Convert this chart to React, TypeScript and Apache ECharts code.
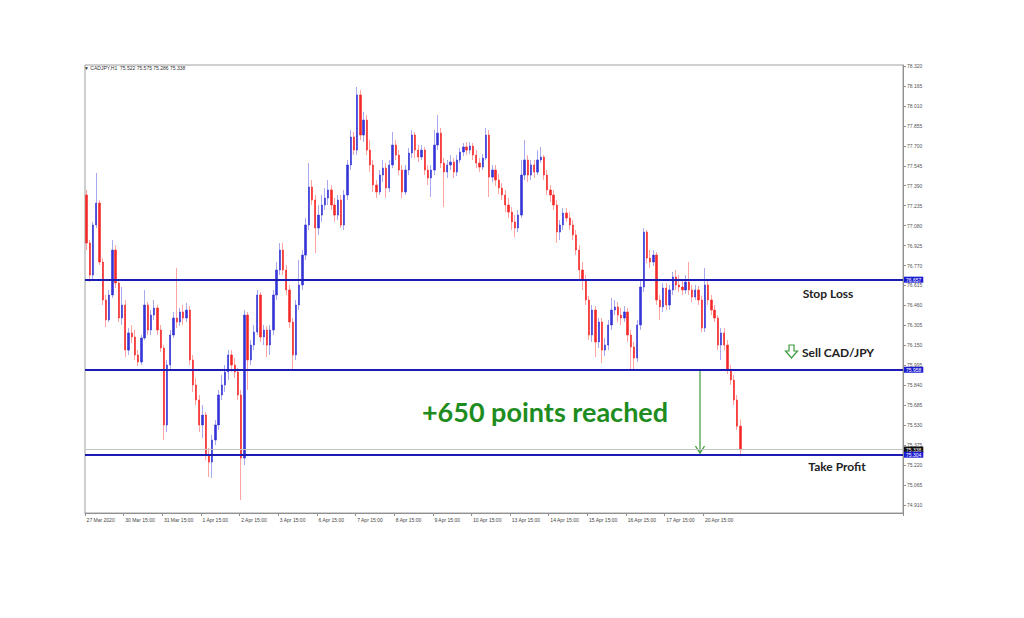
import React, { useEffect, useRef } from "react";
import * as echarts from "echarts";

// ---- data (2-hour bars, CADJPY) ----
const xTickLabels = [
  "27 Mar 2020", "30 Mar 15:00", "31 Mar 15:00", "1 Apr 15:00", "2 Apr 15:00", "3 Apr 15:00",
  "6 Apr 15:00", "7 Apr 15:00", "8 Apr 15:00", "9 Apr 15:00", "10 Apr 15:00", "13 Apr 15:00",
  "14 Apr 15:00", "15 Apr 15:00", "16 Apr 15:00", "17 Apr 15:00", "20 Apr 15:00",
];
const barsPerLabel = 12;
const totalSlots = 254;

const yTicks = [
  74.91, 75.065, 75.22, 75.375, 75.53, 75.685, 75.84, 75.995, 76.15, 76.305, 76.46, 76.615,
  76.77, 76.925, 77.08, 77.235, 77.39, 77.545, 77.7, 77.855, 78.01, 78.165, 78.32,
];

const stopLoss = 76.657;
const sellLevel = 75.958;
const takeProfit = 75.304;
const lastPrice = 75.338;
const header = "▼ CADJPY,H1  75.522 75.575 75.286 75.338";

const firstOpen = 77.318;
const closes = [
  76.945, 76.696, 77.085, 77.255, 76.797, 76.502, 76.347, 76.541, 76.890, 76.634,
  76.362, 76.463, 76.113, 76.246, 76.215, 76.075, 76.020, 76.207, 76.463, 76.269,
  76.385, 76.440, 76.269, 76.129, 75.531, 75.997, 76.230, 76.362, 76.331, 76.409,
  76.362, 76.424, 76.036, 75.842, 75.725, 75.531, 75.608, 75.298, 75.243, 75.414,
  75.531, 75.764, 75.842, 75.943, 76.075, 75.997, 75.943, 75.764, 75.274, 76.385,
  76.036, 76.152, 76.253, 76.541, 76.215, 76.269, 76.152, 76.269, 76.541, 76.735,
  76.890, 76.735, 76.580, 76.331, 76.075, 76.463, 76.619, 76.851, 77.085, 77.380,
  77.279, 77.061, 77.162, 77.240, 77.294, 77.357, 77.240, 77.162, 77.279, 77.085,
  77.318, 77.551, 77.768, 77.667, 78.095, 77.784, 77.900, 77.667, 77.551, 77.395,
  77.341, 77.473, 77.527, 77.372, 77.551, 77.706, 77.628, 77.512, 77.341, 77.512,
  77.644, 77.784, 77.667, 77.613, 77.667, 77.512, 77.450, 77.512, 77.706, 77.799,
  77.566, 77.496, 77.551, 77.574, 77.496, 77.590, 77.652, 77.691, 77.667, 77.698,
  77.628, 77.566, 77.535, 77.605, 77.784, 77.457, 77.512, 77.434, 77.372, 77.318,
  77.240, 77.185, 77.108, 77.061, 77.162, 77.473, 77.590, 77.473, 77.551, 77.496,
  77.590, 77.613, 77.473, 77.357, 77.318, 77.240, 77.030, 77.085, 77.178, 77.139,
  77.085, 77.007, 76.890, 76.735, 76.657, 76.502, 76.230, 76.424, 76.176, 76.331,
  76.113, 76.152, 76.308, 76.424, 76.448, 76.385, 76.362, 76.409, 76.230, 76.137,
  76.051, 76.308, 76.603, 77.030, 76.828, 76.797, 76.851, 76.502, 76.448, 76.595,
  76.463, 76.580, 76.681, 76.619, 76.603, 76.580, 76.642, 76.580, 76.525, 76.580,
  76.502, 76.284, 76.619, 76.502, 76.424, 76.362, 76.152, 76.246, 76.152, 75.958,
  75.880, 75.725, 75.522, 75.338,
];
const highs = [
  77.357, 76.968, 77.108, 77.489, 77.279, 76.828, 76.541, 76.580, 76.968, 76.929,
  76.657, 76.603, 76.502, 76.284, 76.308, 76.269, 76.113, 76.230, 76.580, 76.486,
  76.424, 76.502, 76.463, 76.308, 76.152, 76.036, 76.269, 76.409, 76.751, 76.440,
  76.463, 76.479, 76.455, 76.075, 75.896, 75.764, 75.686, 75.632, 75.352, 75.453,
  75.570, 75.803, 75.919, 75.997, 76.113, 76.113, 76.051, 75.974, 75.803, 76.424,
  76.409, 76.191, 76.308, 76.580, 76.564, 76.308, 76.300, 76.308, 76.580, 76.797,
  76.945, 76.945, 76.774, 76.619, 76.362, 76.502, 76.813, 76.890, 77.139, 77.566,
  77.434, 77.318, 77.240, 77.318, 77.372, 77.434, 77.395, 77.294, 77.318, 77.318,
  77.357, 77.590, 77.823, 77.807, 78.157, 78.134, 77.963, 77.939, 77.745, 77.590,
  77.434, 77.512, 77.590, 77.566, 77.590, 77.807, 77.745, 77.667, 77.551, 77.551,
  77.683, 77.823, 77.807, 77.706, 77.706, 77.691, 77.551, 77.551, 77.823, 77.939,
  77.838, 77.605, 77.590, 77.628, 77.605, 77.628, 77.683, 77.722, 77.729, 77.729,
  77.722, 77.667, 77.605, 77.636, 77.838, 77.823, 77.551, 77.551, 77.481, 77.411,
  77.357, 77.294, 77.224, 77.162, 77.201, 77.590, 77.745, 77.628, 77.590, 77.590,
  77.667, 77.691, 77.628, 77.512, 77.395, 77.357, 77.279, 77.123, 77.216, 77.216,
  77.185, 77.123, 77.046, 76.929, 76.797, 76.696, 76.533, 76.463, 76.455, 76.362,
  76.362, 76.207, 76.347, 76.518, 76.502, 76.486, 76.440, 76.455, 76.440, 76.269,
  76.176, 76.347, 76.657, 77.061, 77.046, 76.890, 76.890, 76.875, 76.541, 76.634,
  76.634, 76.619, 76.720, 76.735, 76.696, 76.657, 76.696, 76.797, 76.619, 76.619,
  76.611, 76.533, 76.751, 76.657, 76.541, 76.463, 76.385, 76.284, 76.284, 76.191,
  75.997, 75.919, 75.764, 75.575,
];
const lows = [
  76.890, 76.642, 76.657, 77.061, 76.774, 76.463, 76.292, 76.331, 76.518, 76.595,
  76.331, 76.308, 76.059, 76.075, 76.168, 76.036, 75.989, 75.997, 76.191, 76.230,
  76.230, 76.347, 76.230, 76.098, 75.414, 75.476, 75.958, 76.207, 76.284, 76.300,
  76.308, 76.331, 75.997, 75.787, 75.686, 75.476, 75.430, 75.259, 75.127, 75.119,
  75.375, 75.492, 75.725, 75.787, 75.880, 75.943, 75.896, 75.725, 74.948, 75.220,
  75.803, 75.997, 76.113, 76.230, 76.176, 76.152, 76.059, 76.075, 76.230, 76.502,
  76.696, 76.696, 76.541, 76.284, 75.958, 76.036, 76.424, 76.580, 76.813, 77.046,
  77.240, 76.867, 77.007, 77.108, 77.201, 77.240, 77.201, 77.108, 77.123, 77.061,
  77.046, 77.279, 77.512, 77.628, 77.628, 77.745, 77.729, 77.628, 77.496, 77.341,
  77.294, 77.318, 77.419, 77.294, 77.341, 77.527, 77.590, 77.473, 77.294, 77.318,
  77.473, 77.605, 77.605, 77.574, 77.590, 77.473, 77.395, 77.302, 77.473, 77.667,
  77.527, 77.224, 77.450, 77.512, 77.450, 77.465, 77.566, 77.621, 77.628, 77.636,
  77.590, 77.527, 77.496, 77.512, 77.590, 77.302, 77.419, 77.388, 77.325, 77.279,
  77.185, 77.139, 77.046, 76.991, 77.030, 77.139, 77.434, 77.419, 77.434, 77.450,
  77.473, 77.566, 77.434, 77.318, 77.263, 77.201, 76.945, 76.968, 77.046, 77.108,
  77.046, 76.968, 76.851, 76.657, 76.580, 76.463, 76.191, 76.176, 76.059, 76.129,
  76.012, 76.067, 76.113, 76.269, 76.385, 76.331, 76.308, 76.331, 76.176, 75.958,
  75.958, 76.020, 76.269, 76.564, 76.789, 76.751, 76.766, 76.463, 76.347, 76.409,
  76.424, 76.424, 76.541, 76.580, 76.564, 76.541, 76.549, 76.541, 76.486, 76.502,
  76.463, 76.253, 76.253, 76.463, 76.385, 76.331, 76.113, 76.036, 76.113, 75.927,
  75.842, 75.686, 75.492, 75.286,
];

const UP = "#3434d6";
const DOWN = "#f52828";
const UP_WICK = "#a9a9ef";
const DOWN_WICK = "#ffa3a3";
const LINE_BLUE = "#1c1cb4";
const FONT = "Liberation Sans";
const ANNOT_FONT = "Lato";

export default function App() {
  const ref = useRef<HTMLDivElement>(null);

  useEffect(() => {
    document.body.style.margin = "0";
    const chart = echarts.init(ref.current!, null, { renderer: "svg" });

    const categories = Array.from({ length: totalSlots }, (_, i) => String(i));
    const opens = closes.map((_, i) => (i === 0 ? firstOpen : closes[i - 1]));
    const full = closes.map((c, i) => [opens[i], c, lows[i], highs[i]]);
    const bodies = closes.map((c, i) => [
      opens[i],
      c,
      Math.min(opens[i], c),
      Math.max(opens[i], c),
    ]);
    const showIdx = (i: number) =>
      i % barsPerLabel === 0 && i / barsPerLabel < xTickLabels.length;

    const lvlLine = (v: number, color: string, width: number, bg: string) => ({
      yAxis: v,
      lineStyle: { color, width, type: "solid" },
      label: {
        show: true,
        position: "end",
        distance: 1,
        formatter: v.toFixed(3),
        color: "#fff",
        backgroundColor: bg,
        fontSize: 5,
        fontFamily: FONT,
        padding: [1, 2, 0, 2],
      },
    });

    chart.setOption({
      animation: false,
      backgroundColor: "#fff",
      textStyle: { fontFamily: FONT },
      grid: {
        left: 85,
        right: 121,
        top: 65,
        bottom: 105,
        show: true,
        borderColor: "#a0a0a0",
        borderWidth: 1,
      },
      xAxis: {
        type: "category",
        data: categories,
        boundaryGap: true,
        axisLine: { show: true, lineStyle: { color: "#909090", width: 1 } },
        axisTick: {
          show: true,
          interval: (i: number) => showIdx(i),
          length: 3,
          lineStyle: { color: "#909090" },
        },
        axisLabel: {
          show: true,
          interval: (i: number) => showIdx(i),
          formatter: (_v: string, i: number) => xTickLabels[i / barsPerLabel] ?? "",
          fontSize: 5,
          color: "#444",
          align: "left",
          margin: 4,
          fontFamily: FONT,
        },
        splitLine: { show: false },
      },
      yAxis: {
        type: "value",
        position: "right",
        min: 74.847,
        max: 78.328,
        axisLine: { show: true, lineStyle: { color: "#909090", width: 1 } },
        axisTick: {
          show: true,
          length: 3,
          customValues: yTicks,
          lineStyle: { color: "#909090" },
        },
        axisLabel: {
          show: true,
          customValues: yTicks,
          formatter: (v: number) => v.toFixed(3),
          fontSize: 5,
          color: "#555",
          margin: 4,
          fontFamily: FONT,
        },
        splitLine: { show: false },
      },
      series: [
        {
          type: "candlestick",
          data: full,
          barWidth: 1,
          silent: true,
          itemStyle: {
            color: UP_WICK,
            color0: DOWN_WICK,
            borderColor: UP_WICK,
            borderColor0: DOWN_WICK,
            borderWidth: 1,
          },
        },
        {
          type: "candlestick",
          data: bodies,
          barWidth: 1.8,
          silent: true,
          itemStyle: {
            color: UP,
            color0: DOWN,
            borderColor: UP,
            borderColor0: DOWN,
            borderWidth: 0.6,
          },
        },
        {
          type: "line",
          data: [],
          z: 5,
          markLine: {
            silent: true,
            symbol: ["none", "none"],
            data: [
              lvlLine(lastPrice, "#c4c4c4", 1, "#111"),
              lvlLine(stopLoss, LINE_BLUE, 2, "#1c1cd0"),
              lvlLine(sellLevel, LINE_BLUE, 2, "#1c1cd0"),
              lvlLine(takeProfit, LINE_BLUE, 2, "#1c1cd0"),
            ],
          },
        },
      ],
    });

    const yS = chart.convertToPixel({ yAxisIndex: 0 }, sellLevel) as number;
    const yT = chart.convertToPixel({ yAxisIndex: 0 }, takeProfit) as number;
    const ax = 700;
    const green = "#3d9c3d";

    chart.setOption({
      graphic: {
        elements: [
          {
            type: "text",
            x: 84,
            y: 68,
            style: {
              text: header,
              fontSize: 5,
              fill: "#333",
              fontFamily: FONT,
              verticalAlign: "middle",
            },
          },
          {
            type: "text",
            x: 828,
            y: 293,
            style: {
              text: "Stop Loss",
              fontSize: 12,
              fontWeight: "bold",
              fill: "#222",
              fontFamily: ANNOT_FONT,
              align: "center",
              verticalAlign: "middle",
            },
          },
          {
            type: "polygon",
            shape: {
              points: [
                [789, 345],
                [794, 345],
                [794, 351],
                [797.5, 351],
                [791.5, 358],
                [785.5, 351],
                [789, 351],
              ],
            },
            style: { fill: "#fff", stroke: green, lineWidth: 1.2 },
          },
          {
            type: "text",
            x: 802,
            y: 352,
            style: {
              text: "Sell CAD/JPY",
              fontSize: 12,
              fontWeight: "bold",
              fill: "#222",
              fontFamily: ANNOT_FONT,
              align: "left",
              verticalAlign: "middle",
            },
          },
          {
            type: "text",
            x: 837,
            y: 466,
            style: {
              text: "Take Profit",
              fontSize: 12,
              fontWeight: "bold",
              fill: "#222",
              fontFamily: ANNOT_FONT,
              align: "center",
              verticalAlign: "middle",
            },
          },
          {
            type: "text",
            x: 545,
            y: 411,
            style: {
              text: "+650 points reached",
              fontSize: 27,
              fontWeight: "bold",
              fill: "#1e8c1e",
              fontFamily: ANNOT_FONT,
              align: "center",
              verticalAlign: "middle",
            },
          },
          {
            type: "line",
            shape: { x1: ax, y1: yS + 1, x2: ax, y2: yT - 1 },
            style: { stroke: green, lineWidth: 1.2 },
          },
          {
            type: "polyline",
            shape: {
              points: [
                [ax - 4.5, yT - 8],
                [ax, yT - 1],
                [ax + 4.5, yT - 8],
              ],
            },
            style: { stroke: green, lineWidth: 1.2, fill: "none" },
          },
        ],
      },
    });

    return () => chart.dispose();
  }, []);

  return (
    <div
      ref={ref}
      style={{ position: "absolute", left: 0, top: 0, width: 1024, height: 618 }}
    />
  );
}
